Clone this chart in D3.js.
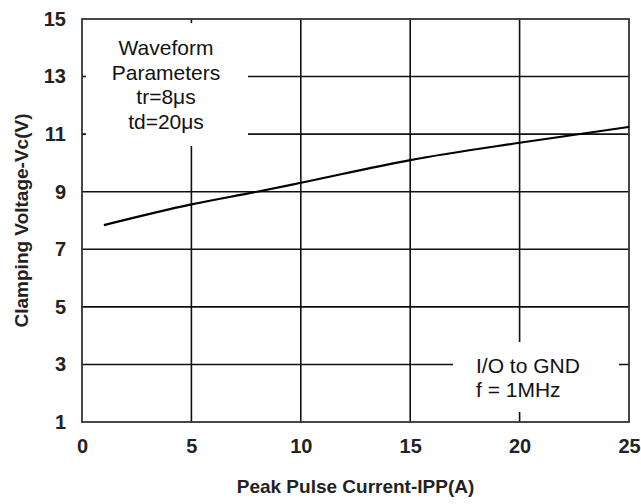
<!DOCTYPE html>
<html>
<head>
<meta charset="utf-8">
<script src="https://cdn.jsdelivr.net/npm/d3@7"></script>
<style>
  body { margin: 0; background: #fff; }
  text { font-family: Arial, "Liberation Sans", sans-serif; }
</style>
</head>
<body>
<div class="chart"></div>
<script>
// Curve: peak pulse current (A) vs clamping voltage (V)
const currents = [1, 5, 8, 10, 15, 20, 25];
const voltages = [7.84, 8.56, 9.0, 9.31, 10.1, 10.7, 11.25];

const xTicks = [0, 5, 10, 15, 20, 25];
const yTicks = [1, 3, 5, 7, 9, 11, 13, 15];

const noteLeft = ["Waveform", "Parameters", "tr=8\u03bcs", "td=20\u03bcs"];
const noteRight = ["I/O to GND", "f = 1MHz"];

const width = 641, height = 504;
const margin = { top: 19, right: 12, bottom: 82, left: 82 };

const svg = d3.select(".chart")
    .append("svg")
    .attr("width", width)
    .attr("height", height);

const xScale = d3.scaleLinear()
    .domain([0, 25])
    .range([margin.left, width - margin.right]);

const yScale = d3.scaleLinear()
    .domain([1, 15])
    .range([height - margin.bottom, margin.top]);

// Grid lines
svg.append("g")
    .selectAll("line")
    .data(xTicks.slice(1, -1))
    .enter()
    .append("line")
    .attr("x1", d => xScale(d)).attr("x2", d => xScale(d))
    .attr("y1", yScale(15)).attr("y2", yScale(1))
    .attr("stroke", "#111")
    .attr("stroke-width", 1.6);

svg.append("g")
    .selectAll("line")
    .data(yTicks.slice(1, -1))
    .enter()
    .append("line")
    .attr("x1", xScale(0)).attr("x2", xScale(25))
    .attr("y1", d => yScale(d)).attr("y2", d => yScale(d))
    .attr("stroke", "#111")
    .attr("stroke-width", 1.6);

// White boxes behind the notes
svg.append("rect")
    .attr("x", 86).attr("y", 23)
    .attr("width", 162).attr("height", 123)
    .attr("fill", "#fff");

svg.append("rect")
    .attr("x", 453).attr("y", 342)
    .attr("width", 166).attr("height", 70)
    .attr("fill", "#fff");

// Frame
svg.append("rect")
    .attr("x", xScale(0)).attr("y", yScale(15))
    .attr("width", xScale(25) - xScale(0))
    .attr("height", yScale(1) - yScale(15))
    .attr("fill", "none")
    .attr("stroke", "#333")
    .attr("stroke-width", 1.8);

// Curve
const line = d3.line()
    .x((d, i) => xScale(currents[i]))
    .y(d => yScale(d))
    .curve(d3.curveMonotoneX);

svg.append("path")
    .datum(voltages)
    .attr("d", line)
    .attr("fill", "none")
    .attr("stroke", "#000")
    .attr("stroke-width", 2.2);

// Axes (labels only)
const xAxis = svg.append("g")
    .attr("transform", `translate(0, ${yScale(1)})`)
    .call(d3.axisBottom(xScale).tickValues(xTicks).tickSize(0).tickPadding(17).tickFormat(d3.format("d")));

const yAxis = svg.append("g")
    .attr("transform", `translate(${xScale(0)}, 0)`)
    .call(d3.axisLeft(yScale).tickValues(yTicks).tickSize(0).tickPadding(16).tickFormat(d3.format("d")));

[xAxis, yAxis].forEach(a => {
    a.select(".domain").remove();
    a.selectAll("text")
        .attr("font-family", "Arial, 'Liberation Sans', sans-serif")
        .style("font-size", "20px")
        .style("font-weight", "bold")
        .attr("fill", "#222");
});

// Axis titles
svg.append("text")
    .attr("x", (xScale(0) + xScale(25)) / 2)
    .attr("y", 493)
    .style("text-anchor", "middle")
    .style("font-size", "19px")
    .style("font-weight", "bold")
    .attr("fill", "#222")
    .text("Peak Pulse Current-IPP(A)");

svg.append("text")
    .attr("transform", `translate(28, ${(yScale(1) + yScale(15)) / 2}) rotate(-90)`)
    .style("text-anchor", "middle")
    .style("font-size", "19px")
    .style("font-weight", "bold")
    .attr("fill", "#222")
    .text("Clamping Voltage-Vc(V)");

// Notes
svg.append("g")
    .selectAll("text")
    .data(noteLeft)
    .enter()
    .append("text")
    .attr("x", 166)
    .attr("y", (d, i) => 55 + i * 24.5)
    .style("text-anchor", "middle")
    .style("font-size", "21px")
    .attr("fill", "#111")
    .text(d => d);

svg.append("g")
    .selectAll("text")
    .data(noteRight)
    .enter()
    .append("text")
    .attr("x", 476)
    .attr("y", (d, i) => 373 + i * 23.5)
    .style("font-size", "21px")
    .attr("fill", "#111")
    .text(d => d);
</script>
</body>
</html>
